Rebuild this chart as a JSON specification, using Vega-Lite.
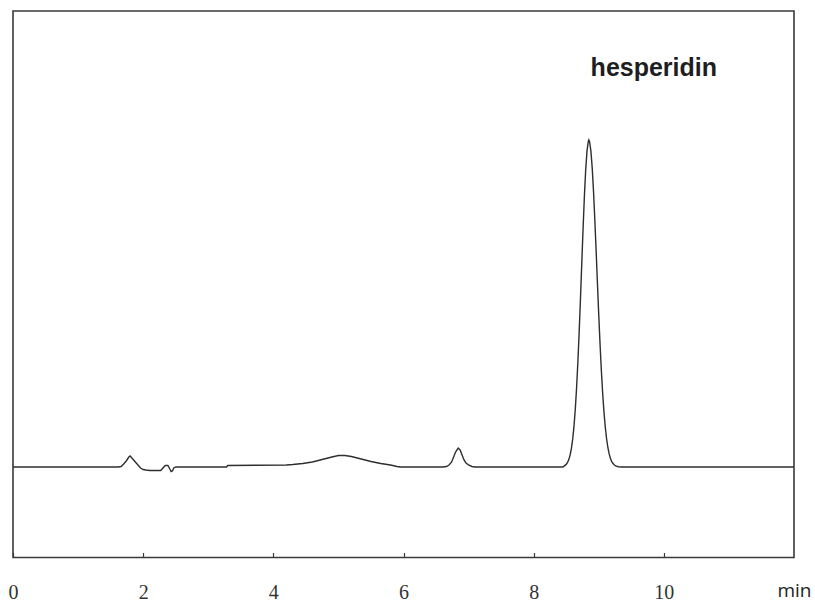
{
  "$schema": "https://vega.github.io/schema/vega-lite/v6.json",
  "autosize": "none",
  "width": 781,
  "height": 546.5,
  "padding": {"left": 13, "top": 11, "right": 21, "bottom": 45.5},
  "background": "white",
  "config": {
    "view": {"stroke": "#3a3a3a", "strokeWidth": 1.6}
  },
  "datasets": {
    "trace": [
      {"t": 0, "v": 0}, {"t": 1.62, "v": 0}, {"t": 1.66, "v": 0.5}, {"t": 1.7, "v": 3}, {"t": 1.74, "v": 6},
      {"t": 1.78, "v": 10}, {"t": 1.8, "v": 11}, {"t": 1.84, "v": 8}, {"t": 1.88, "v": 5}, {"t": 1.92, "v": 2},
      {"t": 1.96, "v": -1}, {"t": 2.0, "v": -2.5}, {"t": 2.04, "v": -3}, {"t": 2.1, "v": -3.5}, {"t": 2.2, "v": -3.5},
      {"t": 2.27, "v": -3.5}, {"t": 2.31, "v": -0.5}, {"t": 2.34, "v": 1.5}, {"t": 2.38, "v": 1.5}, {"t": 2.41, "v": -2},
      {"t": 2.43, "v": -4.5}, {"t": 2.45, "v": -4}, {"t": 2.47, "v": -1}, {"t": 2.5, "v": 0}, {"t": 3.28, "v": 0},
      {"t": 3.3, "v": 1.5}, {"t": 4.2, "v": 2}, {"t": 4.3, "v": 2.5}, {"t": 4.45, "v": 3.5}, {"t": 4.6, "v": 5},
      {"t": 4.75, "v": 7.5}, {"t": 4.9, "v": 10}, {"t": 5.0, "v": 11.5}, {"t": 5.1, "v": 11.5}, {"t": 5.2, "v": 10.5},
      {"t": 5.35, "v": 8}, {"t": 5.5, "v": 5.5}, {"t": 5.65, "v": 3.5}, {"t": 5.8, "v": 2}, {"t": 5.9, "v": 0.5},
      {"t": 5.95, "v": 0}, {"t": 6.6, "v": 0}, {"t": 6.66, "v": 0.5}, {"t": 6.7, "v": 2}, {"t": 6.74, "v": 5},
      {"t": 6.77, "v": 10}, {"t": 6.8, "v": 15}, {"t": 6.84, "v": 19}, {"t": 6.87, "v": 17}, {"t": 6.9, "v": 12},
      {"t": 6.93, "v": 7}, {"t": 6.96, "v": 4}, {"t": 7.0, "v": 2}, {"t": 7.05, "v": 0.5}, {"t": 7.1, "v": 0},
      {"t": 8.45, "v": 0}, {"t": 8.5, "v": 2.6}, {"t": 8.52, "v": 4.5}, {"t": 8.54, "v": 7.4}, {"t": 8.56, "v": 12},
      {"t": 8.58, "v": 18.6}, {"t": 8.6, "v": 28.1}, {"t": 8.62, "v": 41.1}, {"t": 8.64, "v": 58.2}, {"t": 8.66, "v": 79.8},
      {"t": 8.68, "v": 106}, {"t": 8.7, "v": 136.4}, {"t": 8.72, "v": 169.9}, {"t": 8.74, "v": 205.1}, {"t": 8.76, "v": 239.8},
      {"t": 8.78, "v": 271.6}, {"t": 8.8, "v": 297.9}, {"t": 8.82, "v": 316.4}, {"t": 8.84, "v": 325.7}, {"t": 8.848, "v": 327},
      {"t": 8.86, "v": 325}, {"t": 8.88, "v": 315.6}, {"t": 8.9, "v": 298.6}, {"t": 8.92, "v": 275.1}, {"t": 8.94, "v": 246.8},
      {"t": 8.96, "v": 215.7}, {"t": 8.98, "v": 183.6}, {"t": 9.0, "v": 152.1}, {"t": 9.02, "v": 122.8}, {"t": 9.04, "v": 96.5},
      {"t": 9.06, "v": 73.9}, {"t": 9.08, "v": 55.1}, {"t": 9.1, "v": 40}, {"t": 9.12, "v": 28.3}, {"t": 9.14, "v": 19.5},
      {"t": 9.16, "v": 13.1}, {"t": 9.18, "v": 8.5}, {"t": 9.2, "v": 5.4}, {"t": 9.22, "v": 3.4}, {"t": 9.24, "v": 2},
      {"t": 9.26, "v": 1.2}, {"t": 9.3, "v": 0.3}, {"t": 9.35, "v": 0}, {"t": 12, "v": 0}
    ],
    "labels": [
      {"t": 9.846, "v": 399, "label": "hesperidin"}
    ]
  },
  "layer": [
    {
      "data": {"name": "trace"},
      "mark": {"type": "line", "color": "#2e2e2e", "strokeWidth": 1.4, "interpolate": "linear"},
      "encoding": {
        "x": {
          "field": "t", "type": "quantitative",
          "scale": {"domain": [0, 12], "nice": false, "zero": false},
          "axis": {
            "values": [0, 2, 4, 6, 8, 10],
            "format": "d",
            "domain": false,
            "grid": false,
            "tickSize": -5,
            "tickColor": "#3a3a3a",
            "tickWidth": 1.2,
            "labelFont": "Liberation Serif",
            "labelFontSize": 20,
            "labelColor": "#333",
            "labelPadding": 30,
            "labelFlush": false,
            "title": "min",
            "titleFont": "Open Sans",
            "titleFontSize": 19,
            "titleFontWeight": "normal",
            "titleColor": "#222",
            "titleAnchor": "end",
            "titleAlign": "center",
            "titleX": 781,
            "titleY": 38.5,
            "titleBaseline": "alphabetic"
          }
        },
        "y": {
          "field": "v", "type": "quantitative",
          "scale": {"domain": [-90.5, 456], "nice": false, "zero": false},
          "axis": null
        }
      }
    },
    {
      "data": {"name": "labels"},
      "mark": {"type": "text", "font": "Liberation Sans", "fontSize": 25, "fontWeight": "bold", "color": "#1e1e1e", "baseline": "middle", "align": "center"},
      "encoding": {
        "x": {"field": "t", "type": "quantitative"},
        "y": {"field": "v", "type": "quantitative"},
        "text": {"field": "label"}
      }
    }
  ]
}
